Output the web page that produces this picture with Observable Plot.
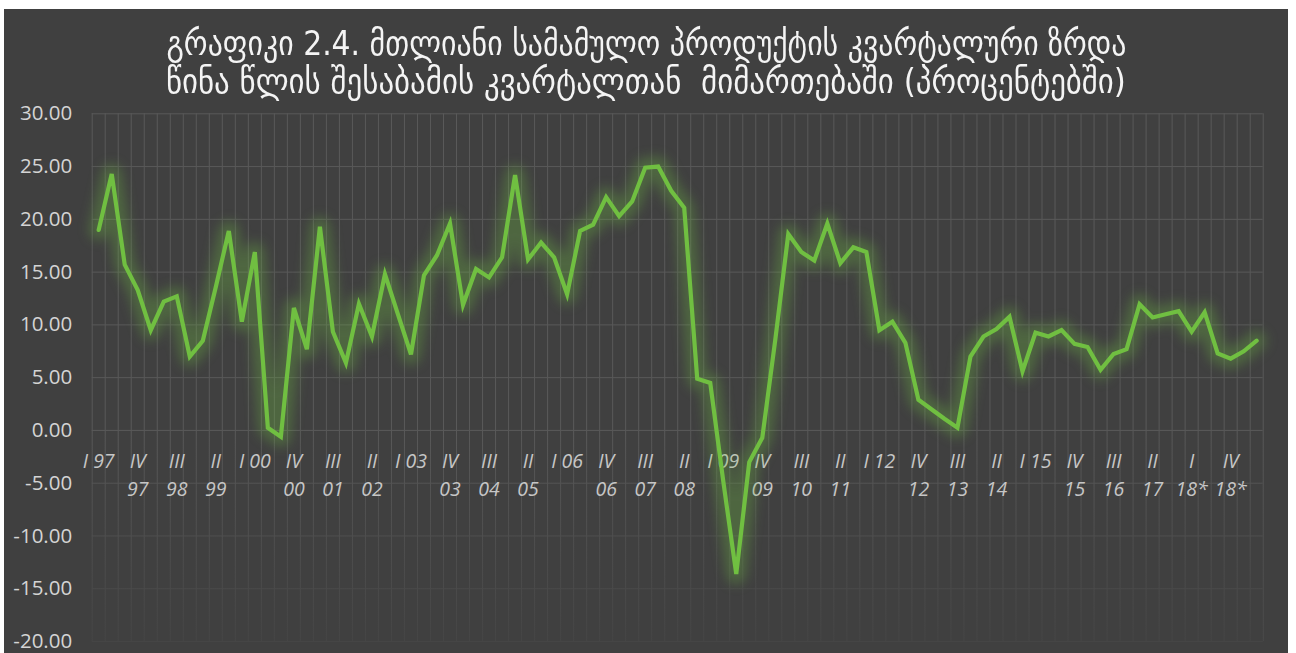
<!DOCTYPE html>
<html>
<head>
<meta charset="utf-8">
<script src="https://cdn.jsdelivr.net/npm/d3@7"></script>
<script src="https://cdn.jsdelivr.net/npm/@observablehq/plot@0.6"></script>
<style>
html, body { margin: 0; padding: 0; background: #ffffff; width: 1296px; height: 653px; overflow: hidden; }
#panel { position: absolute; left: 4px; top: 9px; width: 1284px; height: 644px; background: #404040; overflow: hidden; }
#title { height: 96px; box-sizing: border-box; padding-top: 15px; text-align: center; color: #f4f4f4;
  font-family: "DejaVu Sans Condensed", "DejaVu Sans", sans-serif; font-size: 34px; line-height: 38px; }
#title span { display: inline-block; white-space: pre; transform-origin: center center; }
#chart svg { display: block; }
</style>
</head>
<body>
<div id="panel">
  <div id="title"><span class="tl">გრაფიკი 2.4. მთლიანი სამამულო პროდუქტის კვარტალური ზრდა</span><br><span class="tl">წინა წლის შესაბამის კვარტალთან  მიმართებაში (პროცენტებში)</span></div>
  <div id="chart"></div>
</div>
<script>
// ---- data ----
const years = ["97","98","99","00","01","02","03","04","05","06","07","08","09","10","11","12","13","14","15","16","17","18*","19*"];
const quarterNames = ["I","II","III","IV"];
const growth = [
  19.0, 24.3, 15.7, 13.3, 9.5, 12.2, 12.7, 7.0, 8.5, 13.6,
  18.9, 10.3, 16.9, 0.25, -0.6, 11.6, 7.7, 19.3, 9.35, 6.4,
  12.0, 8.9, 14.8, 11.0, 7.2, 14.7, 16.6, 19.6, 11.9, 15.3,
  14.5, 16.4, 24.2, 16.2, 17.8, 16.4, 12.9, 18.9, 19.5, 22.1,
  20.3, 21.7, 24.9, 25.0, 22.7, 21.1, 4.9, 4.5, -4.8, -13.6,
  -3.0, -0.7, 8.6, 18.6, 16.9, 16.1, 19.6, 15.85, 17.35, 16.9,
  9.5, 10.3, 8.3, 2.9, 2.0, 1.1, 0.25, 7.0, 8.9, 9.6,
  10.76, 5.6, 9.26, 8.9, 9.5, 8.2, 7.9, 5.75, 7.25, 7.7,
  11.96, 10.7, 11.0, 11.3, 9.35, 11.2, 7.3, 6.8, 7.5, 8.5
];
const yTicks = [-20, -15, -10, -5, 0, 5, 10, 15, 20, 25, 30];
const labelStep = 3;
const labelTop = ["I 97","IV","III","II","I 00","IV","III","II","I 03","IV","III","II","I 06","IV","III","II",
                  "I 09","IV","III","II","I 12","IV","III","II","I 15","IV","III","II","I","IV"];
const labelBottom = ["","97","98","99","","00","01","02","","03","04","05","","06","07","08",
                     "","09","10","11","","12","13","14","","15","16","17","18*","18*"];

// ---- build tables ----
const quarters = [];
years.forEach(yy => quarterNames.forEach(q => { if (quarters.length < growth.length) quarters.push(q + " " + yy); }));
const data = growth.map((v, i) => ({i, q: quarters[i], v}));
const labelData = labelTop.map((t, k) => ({i: k * labelStep, top: t, bottom: labelBottom[k]}));
const gridX = d3.range(growth.length + 1).map(i => i - 0.5);

const gridColor = "#595959";
const lineColor = "#70bf41";

const chart = Plot.plot({
  width: 1284,
  height: 548,
  marginLeft: 87.7,
  marginRight: 25.3,
  marginTop: 8.3,
  marginBottom: 12,
  style: {background: "transparent", color: "#d4d4d4", fontFamily: "'Open Sans', 'DejaVu Sans', sans-serif", overflow: "visible"},
  x: {type: "linear", domain: [-0.5, growth.length - 0.5], axis: null},
  y: {domain: [-20, 30], label: null},
  marks: [
    Plot.ruleY(yTicks, {stroke: gridColor, strokeWidth: 1}),
    Plot.ruleX(gridX, {stroke: gridColor, strokeWidth: 1}),
    Plot.axisY(yTicks, {tickSize: 0, tickPadding: 20, fontSize: 20.5, tickFormat: d => d.toFixed(2), fill: "#d4d4d4", label: null}),
    Plot.text(labelData, {x: "i", y: () => 0, dy: 31, text: "top", fontSize: 19.5, fontStyle: "italic", fill: "#c6c6c6", textAnchor: "middle", lineAnchor: "middle"}),
    Plot.text(labelData, {x: "i", y: () => 0, dy: 59, text: "bottom", fontSize: 19.5, fontStyle: "italic", fill: "#c6c6c6", textAnchor: "middle", lineAnchor: "middle"}),
    Plot.line(data, {x: "i", y: "v", stroke: lineColor, strokeWidth: 20, strokeOpacity: 0.3}),
    Plot.line(data, {x: "i", y: "v", stroke: lineColor, strokeWidth: 4.2, strokeLinejoin: "miter", strokeMiterlimit: 4})
  ]
});
document.getElementById("chart").appendChild(chart);

const s = d3.select(chart);
// glow blur on the first (wide) line
const lineGroups = s.selectAll('g[aria-label="line"]').nodes();
if (lineGroups.length) lineGroups[0].style.filter = "blur(6px)";

// soft fade of the grid towards the bottom (as in the original)
const ys = chart.scale("y"), xs = chart.scale("x");
const defs = s.insert("defs", ":first-child");
const grad = defs.append("linearGradient").attr("id", "gridFade").attr("gradientUnits", "userSpaceOnUse")
  .attr("x1", 0).attr("x2", 0).attr("y1", ys.apply(0)).attr("y2", ys.apply(-20));
grad.append("stop").attr("offset", "0%").attr("stop-color", "#404040").attr("stop-opacity", 0);
grad.append("stop").attr("offset", "100%").attr("stop-color", "#404040").attr("stop-opacity", 0.8);
const x0 = xs.apply(-0.5) - 1, x1 = xs.apply(growth.length - 0.5) + 1;
const textGroups = s.selectAll('g[aria-label="text"]').nodes();
const before = textGroups.length ? textGroups[0] : (lineGroups[0] || null);
const rect = document.createElementNS("http://www.w3.org/2000/svg", "rect");
rect.setAttribute("x", x0);
rect.setAttribute("width", x1 - x0);
rect.setAttribute("y", ys.apply(0) + 1);
rect.setAttribute("height", ys.apply(-20) - ys.apply(0) + 2);
rect.setAttribute("fill", "url(#gridFade)");
if (before) before.parentNode.insertBefore(rect, before); else chart.appendChild(rect);

// fit title lines to the original width
document.querySelectorAll("#title .tl").forEach(sp => {
  const w = sp.getBoundingClientRect().width;
  sp.style.transform = `scaleX(${960 / w})`;
});
</script>
</body>
</html>
